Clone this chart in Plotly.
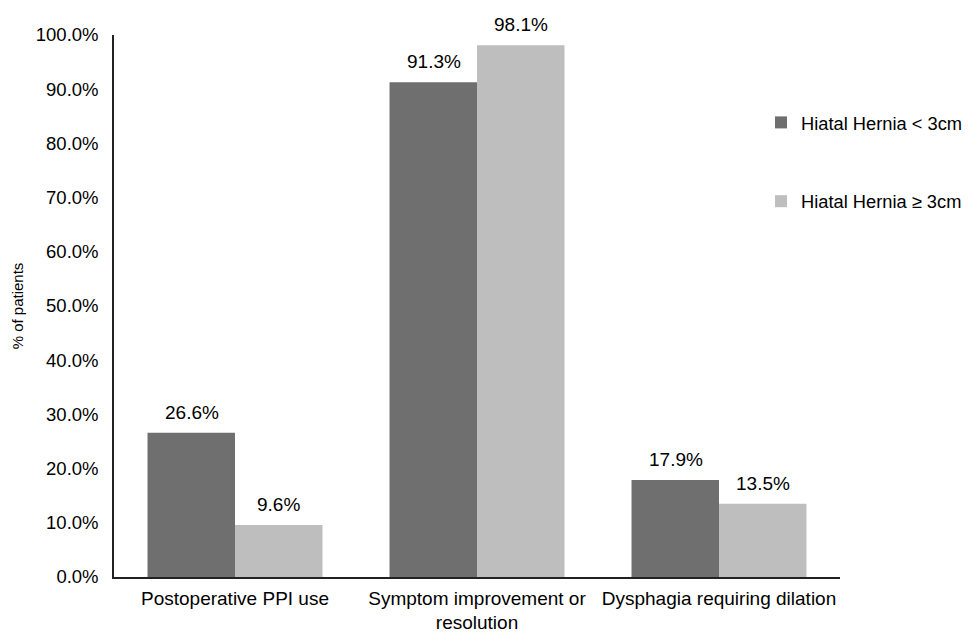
import plotly.graph_objects as go

categories = ["Postoperative PPI use", "Symptom improvement or<br>resolution", "Dysphagia requiring dilation"]
small_hernia = [26.6, 91.3, 17.9]
large_hernia = [9.6, 98.1, 13.5]
series_names = ["Hiatal Hernia < 3cm", "Hiatal Hernia ≥ 3cm"]

font_family = "Liberation Sans, Arial, sans-serif"
bar_colors = ["#6f6f6f", "#bebebe"]

fig = go.Figure()
for name, vals, col, grp in [(series_names[0], small_hernia, bar_colors[0], "a"),
                             (series_names[1], large_hernia, bar_colors[1], "b")]:
    fig.add_trace(go.Bar(
        x=categories, y=vals, name=name,
        marker=dict(color=col, line=dict(width=0)),
        legendgroup=grp, cliponaxis=False,
    ))

# value labels above bars
for vals, shift in [(small_hernia, -43.5), (large_hernia, 43.5)]:
    for c, v in zip(categories, vals):
        fig.add_annotation(x=c, y=v, xref="x", yref="y", text=f"{v:.1f}%",
                           showarrow=False, yanchor="bottom", xshift=shift, yshift=8,
                           font=dict(size=19, color="#000000"))

W, H = 966, 625
fig.update_layout(
    width=W, height=H,
    margin=dict(l=106, r=134, t=27, b=56, autoexpand=False),
    paper_bgcolor="white", plot_bgcolor="white",
    font=dict(family=font_family, size=19, color="#000000"),
    barmode="group", bargap=0.277, bargroupgap=0,
    legend=dict(x=753 / W, y=1 - 96 / H, xref="container", yref="container",
                xanchor="left", yanchor="top",
                tracegroupgap=52, font=dict(size=18.3),
                itemwidth=30, bgcolor="rgba(0,0,0,0)"),
    xaxis=dict(showline=True, linecolor="#222222", linewidth=1.5,
               ticks="", tickfont=dict(size=19), showgrid=False,
               automargin=False, ticklabelstandoff=3),
    yaxis=dict(range=[0, 100], dtick=10, tickformat=".1f", ticksuffix="%",
               showline=True, linecolor="#222222", linewidth=1.5,
               showgrid=False, zeroline=False, ticks="",
               tickfont=dict(size=18.5), automargin=False, ticklabelstandoff=10,
               title=dict(text="% of patients", font=dict(size=15), standoff=9)),
)

fig.write_html("out.html")
